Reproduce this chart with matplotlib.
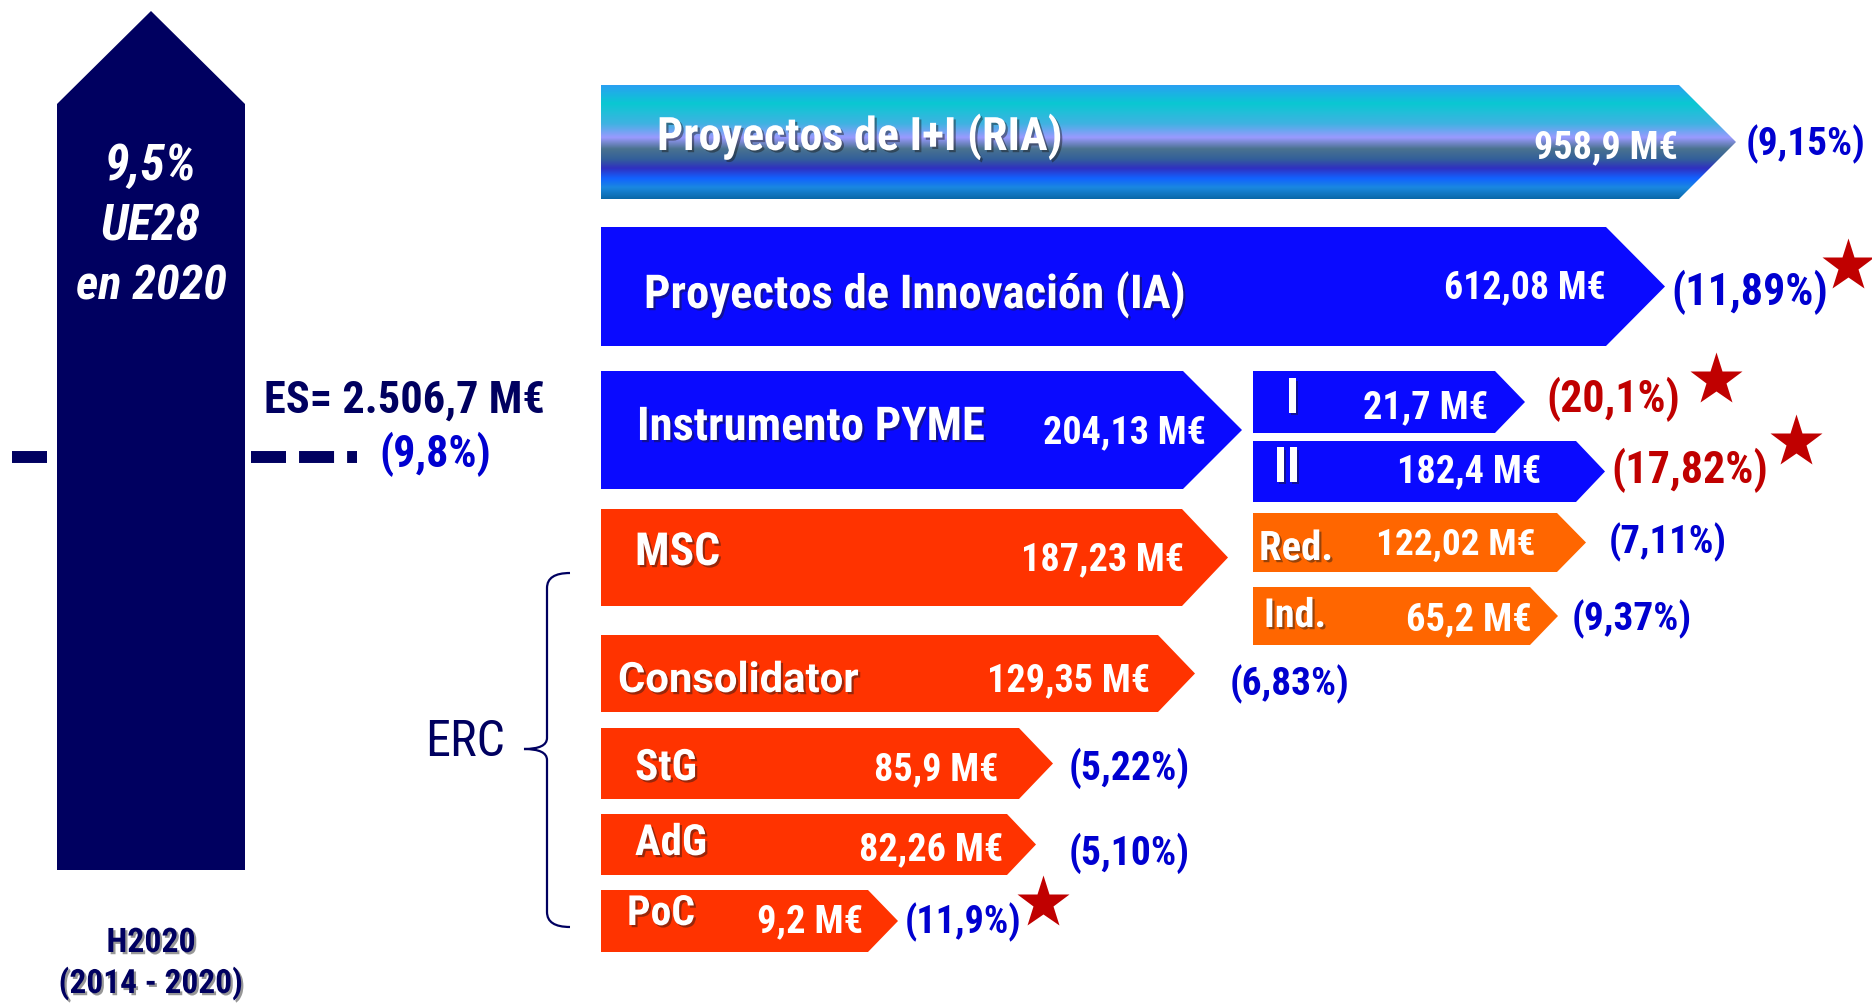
import numpy as np
import matplotlib
matplotlib.use('Agg')
import matplotlib.pyplot as plt
from matplotlib.patches import Polygon, PathPatch
from matplotlib.path import Path
from matplotlib.colors import LinearSegmentedColormap
from matplotlib.font_manager import FontProperties, fontManager
import matplotlib.patheffects as pe

# ---------------- data ----------------
categories = ['Proyectos de I+I (RIA)', 'Proyectos de Innovación (IA)', 'Instrumento PYME',
              'MSC', 'Consolidator', 'StG', 'AdG', 'PoC', 'I', 'II', 'Red.', 'Ind.']
values_meur = [958.9, 612.08, 204.13, 187.23, 129.35, 85.9, 82.26, 9.2, 21.7, 182.4, 122.02, 65.2]
share_labels = ['9,15', '11,89', '', '', '6,83', '5,22', '5,10', '11,9', '20,1', '17,82', '7,11', '9,37']
highlighted = [False, True, False, False, False, False, False, True, True, True, False, False]
groups = ['RIA', 'blue', 'blue', 'erc', 'erc', 'erc', 'erc', 'erc', 'blue', 'blue', 'msc', 'msc']
share_red = [False, False, False, False, False, False, False, False, True, True, False, False]

target_lines = ['9,5%', 'UE28', 'en 2020']
es_total_label = 'ES= 2.506,7 M€'
es_share_label = '(9,8%)'
program_lines = ['H2020', '(2014 - 2020)']
erc_label = 'ERC'

# ---------------- layout (pixels) ----------------
W, H = 1872, 1006
bar_x0 = [601, 601, 601, 601, 601, 601, 601, 601, 1253, 1253, 1253, 1253]
bar_body_end = [1679, 1606, 1183, 1182, 1158, 1019, 1007, 868, 1495, 1576, 1557, 1530]
bar_tip = [1736, 1665, 1242, 1228, 1195, 1053, 1036, 898, 1525, 1605, 1586, 1558]
bar_top = [85, 227, 371, 509, 635, 728, 814, 890, 371, 441, 513, 587]
bar_bottom = [199, 346, 489, 606, 712, 799, 875, 952, 433, 502, 572, 645]
label_x = [657, 644, 637, 635, 618, 635, 635, 627, 1286, 1274, 1259, 1264]
label_w = [406, 542, 348, 85, 240, 62, 72, 68, 0, 0, 74, 62]
label_base = [150, 308, 440, 565, 692, 780, 855, 925, 413, 482, 560, 627]
label_size = [33, 33, 33, 33, 31, 28, 28, 28, 35, 35, 29, 29]
value_xr = [1678, 1606, 1206, 1184, 1150, 998, 1003, 863, 1488, 1541, 1536, 1532]
value_w = [144, 162, 163, 163, 163, 124, 144, 106, 125, 144, 160, 126]
value_base = [158, 298, 443, 570, 691, 780, 860, 932, 418, 482, 555, 630]
value_size = [30, 29, 30, 30, 30, 27, 29, 28, 30, 30, 30, 29]
share_x = [1746, 1671, 0, 0, 1230, 1069, 1069, 905, 1546, 1611, 1609, 1572]
share_w = [120, 157, 0, 0, 120, 121, 121, 117, 134, 157, 118, 120]
share_base = [155, 305, 0, 0, 695, 780, 865, 933, 412, 483, 553, 630]
share_size = [29, 31, 0, 0, 29, 28, 28, 28, 30, 30, 28, 28]
star_xy = {1: (1848, 266), 7: (1043, 903), 8: (1716, 380), 9: (1796, 442)}

NAVY = '#000060'
BLUE_TXT = '#0000d0'
RED_TXT = '#c00000'
fills = {'blue': '#0a0aff', 'erc': '#ff3300', 'msc': '#ff6600'}


# ---------------- fonts: prefer a narrow/condensed face ----------------
def find_narrow(bold, italic):
    prefs = ['liberationsansnarrow', 'arialnarrow', 'arialn', 'robotocondensed',
             'opensanscondensed', 'notosanscondensed', 'latocondensed', 'dejavusanscondensed',
             'condensed', 'narrow']
    best = None
    for f in fontManager.ttflist:
        key = (f.name + ' ' + f.fname.split('/')[-1]).lower().replace(' ', '').replace('-', '').replace('_', '')
        rank = None
        for r, p in enumerate(prefs):
            if p in key:
                rank = r
                break
        if rank is None and f.stretch not in ('condensed', 'semi-condensed'):
            continue
        if rank is None:
            rank = len(prefs)
        if 'extracondensed' in key or 'ultracondensed' in key:
            continue
        wt = f.weight if isinstance(f.weight, int) else (700 if 'bold' in str(f.weight) else 400)
        is_bold = wt >= 600 or 'bold' in key
        is_it = f.style in ('italic', 'oblique') or 'italic' in key or 'oblique' in key
        if is_bold != bold or is_it != italic:
            continue
        if any(k in key for k in ('semibold', 'extrabold', 'black', 'light', 'thin', 'medium')):
            continue
        if best is None or rank < best[0]:
            best = (rank, f.fname)
    if best:
        return FontProperties(fname=best[1])
    return FontProperties(family='Liberation Sans', weight='bold' if bold else 'normal',
                          style='italic' if italic else 'normal')


FP_B = find_narrow(True, False)
FP_BI = find_narrow(True, True)
FP_R = find_narrow(False, False)
FP_WIDE = FontProperties(family=['Roboto', 'Liberation Sans'], weight='bold')

shadow = [pe.SimplePatchShadow(offset=(1.6, -1.6), shadow_rgbFace=(0.1, 0.1, 0.1), alpha=0.45),
          pe.Normal()]

fig = plt.figure(figsize=(W / 100, H / 100), dpi=100)
ax = fig.add_axes([0, 0, 1, 1])
ax.set_xlim(0, W)
ax.set_ylim(H, 0)
ax.axis('off')
renderer = fig.canvas.get_renderer()


def fitted(x, y, s, width, size, fp, **kw):
    t = ax.text(x, y, s, fontproperties=fp.copy(), **kw)
    t.set_fontsize(size)
    if width:
        w = t.get_window_extent(renderer).width
        if w > 0:
            t.set_fontsize(min(size * width / w, size * 1.15))
    return t


# ---------------- left big arrow ----------------
big = Polygon([(57, 870), (57, 104), (151, 11), (245, 104), (245, 870)], closed=True,
              facecolor=NAVY, edgecolor='none', zorder=2)
ax.add_patch(big)
for txt, yb, w in zip(target_lines, [180, 240, 300], [92, 100, 151]):
    fitted(151, yb, txt, w, 37, FP_BI, color='white', ha='center', va='baseline', zorder=3)

# ES level marker
plt.rcParams['lines.scale_dashes'] = False
ax.plot([11.5, 46.7], [457, 457], color=NAVY, lw=8.6, solid_capstyle='butt', zorder=1)
ax.plot([251, 357], [457, 457], color=NAVY, lw=8.6, linestyle=(0, (25.2, 9.4)),
        dash_capstyle='butt', zorder=1)
fitted(264, 413, es_total_label, 281, 35, FP_B, color=NAVY, ha='left', va='baseline')
fitted(379, 467, es_share_label, 112, 30, FP_B, color=BLUE_TXT, ha='left', va='baseline')

for txt, yb, w in zip(program_lines, [952, 993], [89, 184]):
    fitted(151, yb, txt, w, 27, FP_B, color=NAVY, ha='center', va='baseline', path_effects=shadow)

# ERC brace
fitted(425, 756, erc_label, 80, 35, FP_R, color=NAVY, ha='left', va='baseline')
verts = [(570, 573), (547, 573), (547, 588), (547, 738), (547, 749), (524, 749),
         (547, 749), (547, 760), (547, 912), (547, 927), (570, 927)]
codes = [Path.MOVETO, Path.CURVE3, Path.CURVE3, Path.LINETO, Path.CURVE3, Path.CURVE3,
         Path.CURVE3, Path.CURVE3, Path.LINETO, Path.CURVE3, Path.CURVE3]
ax.add_patch(PathPatch(Path(verts, codes), facecolor='none', edgecolor=NAVY, lw=1.6))

# ---------------- arrows ----------------
ria_stops = [(0.00, '#2aa0f2'), (0.16, '#0ac8d2'), (0.34, '#40b2e2'), (0.46, '#9a9aff'),
             (0.56, '#4a7290'), (0.65, '#33609a'), (0.73, '#3030c0'), (0.82, '#1262ff'),
             (0.90, '#1a88e0'), (1.00, '#0a68a8')]
ria_cmap = LinearSegmentedColormap.from_list('ria', ria_stops)

for i, name in enumerate(categories):
    x0, xb, xt = bar_x0[i], bar_body_end[i], bar_tip[i]
    y0, y1 = bar_top[i], bar_bottom[i]
    ym = (y0 + y1) / 2
    poly = Polygon([(x0, y0), (xb, y0), (xt, ym), (xb, y1), (x0, y1)], closed=True,
                   facecolor=fills.get(groups[i], 'none'), edgecolor='none', zorder=2)
    ax.add_patch(poly)
    if groups[i] == 'RIA':
        grad = np.linspace(0, 1, 256).reshape(-1, 1)
        im = ax.imshow(grad, cmap=ria_cmap, aspect='auto', extent=(x0, xt, y1, y0),
                       interpolation='bilinear', zorder=2)
        im.set_clip_path(poly)
        ax.set_xlim(0, W)
        ax.set_ylim(H, 0)
    fp = FP_WIDE if name == 'Consolidator' else FP_B
    fitted(label_x[i], label_base[i], name, label_w[i], label_size[i], fp, color='white',
           ha='left', va='baseline', zorder=4, path_effects=shadow)
    vlab = f'{values_meur[i]:g}'.replace('.', ',') + ' M€'
    fitted(value_xr[i], value_base[i], vlab, value_w[i], value_size[i], FP_B, color='white',
           ha='right', va='baseline', zorder=4)
    if share_labels[i]:
        fitted(share_x[i], share_base[i], f'({share_labels[i]}%)', share_w[i], share_size[i], FP_B,
               color=RED_TXT if share_red[i] else BLUE_TXT, ha='left', va='baseline', zorder=4)
    if highlighted[i]:
        sx, sy = star_xy[i]
        ax.plot([sx], [sy], marker='*', markersize=40, color='#c00000', mec='none', zorder=5)

fig.savefig('out.png', dpi=100)
